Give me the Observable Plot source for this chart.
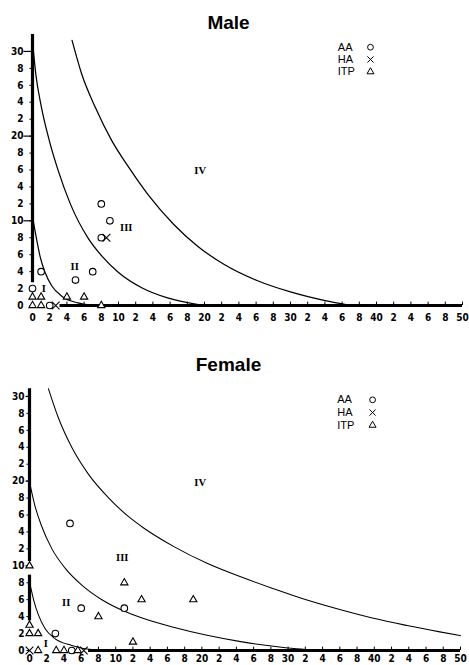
<!DOCTYPE html>
<html>
<head>
<meta charset="utf-8">
<script src="https://cdn.jsdelivr.net/npm/d3@7"></script>
<script src="https://cdn.jsdelivr.net/npm/@observablehq/plot@0.6"></script>
<style>
  html, body { margin: 0; padding: 0; background: #fff; }
  svg { display: block; }
</style>
</head>
<body>
<div id="chart"></div>
<script>
// ---- shared ticks / labels ----
const xTicks = d3.range(0, 51, 2);
const yTicks = d3.range(0, 31, 2);
const yMajorTicks = [10, 20, 30];
const tickLabel = v => (v % 10 === 0 ? String(v) : String(v % 10));
const legendLabels = ["AA", "HA", "ITP"];
const legendSymbols = ["circle", "times", "triangle"];
const regionNames = ["I", "II", "III", "IV"];

// ---- Male data ----
const maleAA  = [[0, 2], [1, 4], [5, 3], [7, 4], [8, 12], [9, 10], [8, 8], [2, 0]];
const maleHA  = [[8.6, 8], [2.7, 0]];
const maleITP = [[0, 1], [1, 1], [0, 0], [1, 0], [4, 1], [6, 1], [8, 0]];
const maleCurve1 = [[0, 10.5], [0.5, 7.7], [0.9, 5.7], [1.5, 3.8], [2.25, 2.3], [3.4, 1.1], [5.3, 0.3], [7.2, 0]];
const maleCurve2 = [[0.1, 30.1], [0.4, 27.2], [1.0, 23.6], [2.0, 19.3], [3.0, 15.9], [4.4, 12.0], [6.5, 7.9], [8.1, 5.8], [10, 3.9], [12.7, 2.1], [15.7, 0.9], [18.8, 0.2], [19.8, 0]];
const maleCurve3 = [[4.6, 31.3], [5.7, 27.4], [7.3, 23.4], [9.2, 19.5], [11.2, 16.3], [13.5, 13.0], [16.4, 9.6], [19.2, 7.0], [22.2, 4.9], [26.1, 2.95], [30, 1.6], [33.9, 0.6], [37, 0]];
const maleRegionPos = [[1.3, 2.0], [4.9, 4.6], [10.9, 9.2], [19.5, 15.9]];
const maleYAxisSpans = [[2.7, 32]];
const maleXAxisStart = 3.2;

// ---- Female data ----
const femaleAA  = [[4.7, 15], [6, 5], [11, 5], [3, 2], [4.9, 0]];
const femaleHA  = [[0, 0], [6.3, 0]];
const femaleITP = [[0, 10], [0, 3], [0, 2], [1, 2], [1, 0], [3.1, 0], [4, 0], [5.6, 0], [8, 4], [11, 8], [13, 6], [12, 1], [19, 6]];
const femaleCurve1 = [[0, 8.1], [0.5, 5.9], [1.0, 4.3], [1.8, 2.6], [2.95, 1.4], [4.9, 0.6], [7.2, 0.12], [10, 0]];
const femaleCurve2 = [[0, 19.9], [0.6, 17.2], [1.4, 14.7], [2.6, 12.0], [4.15, 9.7], [6.1, 7.7], [8.4, 6.0], [11.1, 4.6], [12.9, 3.9], [16.7, 2.75], [20.6, 1.8], [24.5, 1.05], [28.3, 0.5], [31, 0.2], [33.5, 0]];
const femaleCurve3 = [[2.2, 30.9], [3.3, 27.6], [4.9, 24.0], [6.85, 20.8], [9.2, 18.0], [11.5, 15.8], [13.2, 14.5], [16.7, 12.3], [20.6, 10.3], [24.5, 8.7], [28.3, 7.3], [32.2, 5.95], [36.1, 4.8], [39.9, 3.8], [43.8, 2.95], [47.6, 2.2], [50, 1.75]];
const femaleRegionPos = [[1.9, 0.8], [4.25, 5.6], [10.75, 11], [19.8, 19.8]];
const femaleYAxisSpans = [[3.5, 8.9], [10.5, 30.9]];
const femaleXAxisStart = 6.85;

const tickFont = "'Liberation Sans Narrow', 'DejaVu Sans Condensed', 'Liberation Sans', sans-serif";

function panel(cfg) {
  const groups = [
    {data: cfg.aa, symbol: "circle", r: 3.3},
    {data: cfg.ha, symbol: "times", r: 3.6},
    {data: cfg.itp, symbol: "triangle", r: 2.7}
  ];
  const marks = [];
  // axes lines
  marks.push(Plot.ruleX(cfg.yAxisSpans, {x: 0, y1: d => d[0], y2: d => d[1], strokeWidth: 3.2, stroke: "#000"}));
  marks.push(Plot.ruleY([0], {x1: cfg.xAxisStart, x2: 50, strokeWidth: 3, stroke: "#000"}));
  // y ticks
  marks.push(Plot.ruleY(yTicks, {y: d => d, x1: -0.3, x2: 0, stroke: "#000", strokeWidth: 1}));
  marks.push(Plot.ruleY(yMajorTicks, {y: d => d, x1: cfg.majorTickLen, x2: 0, stroke: "#000", strokeWidth: 1.2}));
  // x ticks
  marks.push(Plot.ruleX(xTicks.filter(v => v > cfg.xAxisStart), {x: d => d, y1: 0, y2: 0.4, stroke: "#000", strokeWidth: 1}));
  // tick labels
  marks.push(Plot.text(xTicks, {x: d => d, y: 0, text: tickLabel, dy: cfg.xLabelDy, lineAnchor: "top", fontSize: 10, fontWeight: "bold", fontFamily: tickFont, fill: "#000"}));
  marks.push(Plot.text(yTicks, {x: 0, y: d => d, text: tickLabel, dx: cfg.yLabelDx, textAnchor: "end", fontSize: 10, fontWeight: "bold", fontFamily: tickFont, fill: "#000"}));
  // curves
  for (const c of cfg.curves) {
    marks.push(Plot.line(c, {x: d => d[0], y: d => d[1], curve: "monotone-x", stroke: "#000", strokeWidth: cfg.curveWidth}));
  }
  // region labels
  marks.push(Plot.text(regionNames, {x: (d, i) => cfg.regionPos[i][0], y: (d, i) => cfg.regionPos[i][1], text: d => d, fontSize: 10.5, fontWeight: "bold", fontFamily: "'Liberation Serif', serif", fill: "#000"}));
  // points
  for (const g of groups) {
    marks.push(Plot.dot(g.data, {x: d => d[0], y: d => d[1], symbol: g.symbol, r: g.r, stroke: "#000", strokeWidth: 1.1, fill: g.symbol === "times" ? "none" : "white"}));
  }
  // title
  marks.push(Plot.text([cfg.title], {frameAnchor: "top-left", dx: cfg.titleDx, dy: cfg.titleDy, textAnchor: "middle", lineAnchor: "bottom", text: d => d, fontSize: 19, fontWeight: "bold", fontFamily: "'Liberation Sans', Arial, sans-serif", fill: "#000"}));
  // legend
  legendLabels.forEach((lab, i) => {
    const ly = cfg.legendY - i * cfg.legendStep;
    marks.push(Plot.text([lab], {x: cfg.legendX, y: ly, text: d => d, textAnchor: "start", fontSize: 11, fontFamily: "'Liberation Sans', Arial, sans-serif", fill: "#000"}));
    marks.push(Plot.dot([lab], {x: cfg.legendSymX, y: ly, symbol: legendSymbols[i], r: legendSymbols[i] === "triangle" ? 2.6 : 2.9, stroke: "#000", strokeWidth: 1, fill: "none"}));
  });

  return Plot.plot({
    width: 469,
    height: cfg.height,
    marginLeft: cfg.ml, marginRight: cfg.mr, marginTop: cfg.mt, marginBottom: cfg.mb,
    x: {domain: [0, 50], axis: null},
    y: {domain: [0, 32], axis: null},
    style: {background: "white", overflow: "visible"},
    marks
  });
}

const male = panel({
  title: "Male", height: 325, ml: 32, mr: 7, mt: 34, mb: 20,
  titleDx: 196, titleDy: -6,
  aa: maleAA, ha: maleHA, itp: maleITP,
  curves: [maleCurve1, maleCurve2, maleCurve3], curveWidth: 1.25,
  regionPos: maleRegionPos, yAxisSpans: maleYAxisSpans, xAxisStart: maleXAxisStart,
  majorTickLen: -1.0, xLabelDy: 8, yLabelDx: -9,
  legendX: 35.5, legendSymX: 39.3, legendY: 30.5, legendStep: 1.45
});
const female = panel({
  title: "Female", height: 340, ml: 29, mr: 9, mt: 54, mb: 15,
  titleDx: 199, titleDy: -9,
  aa: femaleAA, ha: femaleHA, itp: femaleITP,
  curves: [femaleCurve1, femaleCurve2, femaleCurve3], curveWidth: 1.05,
  regionPos: femaleRegionPos, yAxisSpans: femaleYAxisSpans, xAxisStart: femaleXAxisStart,
  majorTickLen: -0.4, xLabelDy: 4, yLabelDx: -5,
  legendX: 35.7, legendSymX: 39.8, legendY: 29.6, legendStep: 1.5
});
const root = document.getElementById("chart");
root.appendChild(male);
root.appendChild(female);
</script>
</body>
</html>
